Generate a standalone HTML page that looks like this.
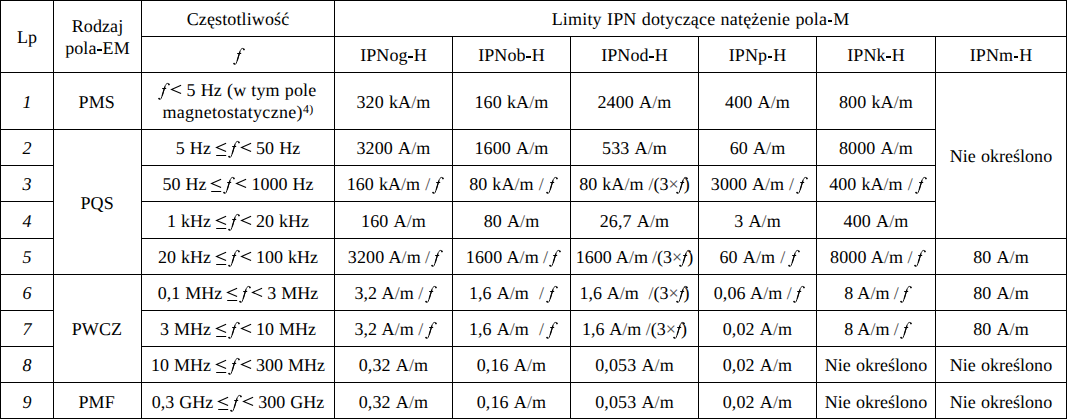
<!DOCTYPE html>
<html><head><meta charset="utf-8"><title>Tabela</title>
<style>
html,body{margin:0;padding:0;background:#fff;}
body{width:1067px;height:419px;position:relative;overflow:hidden;font-family:"Liberation Serif",serif;font-size:18px;color:#000;line-height:20px;text-rendering:geometricPrecision;font-kerning:none;word-spacing:0.5px;letter-spacing:0.12px;}
.t{position:absolute;height:20px;text-align:center;white-space:nowrap;}
.h,.v{position:absolute;background:#000;}
.h{height:1px;}.v{width:1px;}
sup{font-size:12px;line-height:0;vertical-align:5.5px;}
.hy{display:inline-block;width:6px;height:0;position:relative;}
.hy b{position:absolute;left:.7px;top:-5px;width:4.6px;height:2px;background:#000;}
u{text-decoration:none;color:#4a4a4a;}
.f,.lt,.le{display:inline-block;height:0;position:relative;}
.f{width:5px;}.lt{width:10.15px;}.le{width:9.88px;}
.f svg{position:absolute;left:-5px;top:-16px;overflow:visible;}
.lt svg,.le svg{position:absolute;left:-2px;top:-16px;overflow:visible;}
</style></head><body>

<div class="h" style="left:0px;top:0px;width:54px"></div>
<div class="h" style="left:53px;top:0px;width:89px"></div>
<div class="h" style="left:141px;top:0px;width:194px"></div>
<div class="h" style="left:334px;top:0px;width:733px"></div>
<div class="h" style="left:141px;top:36px;width:194px"></div>
<div class="h" style="left:334px;top:36px;width:119px"></div>
<div class="h" style="left:334px;top:36px;width:733px"></div>
<div class="h" style="left:452px;top:36px;width:119px"></div>
<div class="h" style="left:570px;top:36px;width:129px"></div>
<div class="h" style="left:698px;top:36px;width:119px"></div>
<div class="h" style="left:816px;top:36px;width:120px"></div>
<div class="h" style="left:935px;top:36px;width:132px"></div>
<div class="h" style="left:0px;top:72px;width:54px"></div>
<div class="h" style="left:53px;top:72px;width:89px"></div>
<div class="h" style="left:141px;top:72px;width:194px"></div>
<div class="h" style="left:334px;top:72px;width:119px"></div>
<div class="h" style="left:452px;top:72px;width:119px"></div>
<div class="h" style="left:570px;top:72px;width:129px"></div>
<div class="h" style="left:698px;top:72px;width:119px"></div>
<div class="h" style="left:816px;top:72px;width:120px"></div>
<div class="h" style="left:935px;top:72px;width:132px"></div>
<div class="h" style="left:0px;top:129px;width:54px"></div>
<div class="h" style="left:53px;top:129px;width:89px"></div>
<div class="h" style="left:141px;top:129px;width:194px"></div>
<div class="h" style="left:334px;top:129px;width:119px"></div>
<div class="h" style="left:452px;top:129px;width:119px"></div>
<div class="h" style="left:570px;top:129px;width:129px"></div>
<div class="h" style="left:698px;top:129px;width:119px"></div>
<div class="h" style="left:816px;top:129px;width:120px"></div>
<div class="h" style="left:0px;top:165px;width:54px"></div>
<div class="h" style="left:141px;top:165px;width:194px"></div>
<div class="h" style="left:334px;top:165px;width:119px"></div>
<div class="h" style="left:452px;top:165px;width:119px"></div>
<div class="h" style="left:570px;top:165px;width:129px"></div>
<div class="h" style="left:698px;top:165px;width:119px"></div>
<div class="h" style="left:816px;top:165px;width:120px"></div>
<div class="h" style="left:0px;top:201px;width:54px"></div>
<div class="h" style="left:141px;top:201px;width:194px"></div>
<div class="h" style="left:334px;top:201px;width:119px"></div>
<div class="h" style="left:452px;top:201px;width:119px"></div>
<div class="h" style="left:570px;top:201px;width:129px"></div>
<div class="h" style="left:698px;top:201px;width:119px"></div>
<div class="h" style="left:816px;top:201px;width:120px"></div>
<div class="h" style="left:0px;top:238px;width:54px"></div>
<div class="h" style="left:141px;top:238px;width:194px"></div>
<div class="h" style="left:334px;top:238px;width:119px"></div>
<div class="h" style="left:452px;top:238px;width:119px"></div>
<div class="h" style="left:570px;top:238px;width:129px"></div>
<div class="h" style="left:698px;top:238px;width:119px"></div>
<div class="h" style="left:816px;top:238px;width:120px"></div>
<div class="h" style="left:935px;top:238px;width:132px"></div>
<div class="h" style="left:0px;top:274px;width:54px"></div>
<div class="h" style="left:53px;top:274px;width:89px"></div>
<div class="h" style="left:141px;top:274px;width:194px"></div>
<div class="h" style="left:334px;top:274px;width:119px"></div>
<div class="h" style="left:452px;top:274px;width:119px"></div>
<div class="h" style="left:570px;top:274px;width:129px"></div>
<div class="h" style="left:698px;top:274px;width:119px"></div>
<div class="h" style="left:816px;top:274px;width:120px"></div>
<div class="h" style="left:935px;top:274px;width:132px"></div>
<div class="h" style="left:0px;top:310px;width:54px"></div>
<div class="h" style="left:141px;top:310px;width:194px"></div>
<div class="h" style="left:334px;top:310px;width:119px"></div>
<div class="h" style="left:452px;top:310px;width:119px"></div>
<div class="h" style="left:570px;top:310px;width:129px"></div>
<div class="h" style="left:698px;top:310px;width:119px"></div>
<div class="h" style="left:816px;top:310px;width:120px"></div>
<div class="h" style="left:935px;top:310px;width:132px"></div>
<div class="h" style="left:0px;top:346px;width:54px"></div>
<div class="h" style="left:141px;top:346px;width:194px"></div>
<div class="h" style="left:334px;top:346px;width:119px"></div>
<div class="h" style="left:452px;top:346px;width:119px"></div>
<div class="h" style="left:570px;top:346px;width:129px"></div>
<div class="h" style="left:698px;top:346px;width:119px"></div>
<div class="h" style="left:816px;top:346px;width:120px"></div>
<div class="h" style="left:935px;top:346px;width:132px"></div>
<div class="h" style="left:0px;top:382px;width:54px"></div>
<div class="h" style="left:53px;top:382px;width:89px"></div>
<div class="h" style="left:141px;top:382px;width:194px"></div>
<div class="h" style="left:334px;top:382px;width:119px"></div>
<div class="h" style="left:452px;top:382px;width:119px"></div>
<div class="h" style="left:570px;top:382px;width:129px"></div>
<div class="h" style="left:698px;top:382px;width:119px"></div>
<div class="h" style="left:816px;top:382px;width:120px"></div>
<div class="h" style="left:935px;top:382px;width:132px"></div>
<div class="h" style="left:0px;top:418px;width:54px"></div>
<div class="h" style="left:53px;top:418px;width:89px"></div>
<div class="h" style="left:141px;top:418px;width:194px"></div>
<div class="h" style="left:334px;top:418px;width:119px"></div>
<div class="h" style="left:452px;top:418px;width:119px"></div>
<div class="h" style="left:570px;top:418px;width:129px"></div>
<div class="h" style="left:698px;top:418px;width:119px"></div>
<div class="h" style="left:816px;top:418px;width:120px"></div>
<div class="h" style="left:935px;top:418px;width:132px"></div>
<div class="v" style="left:0px;top:0px;height:73px"></div>
<div class="v" style="left:0px;top:72px;height:58px"></div>
<div class="v" style="left:0px;top:129px;height:37px"></div>
<div class="v" style="left:0px;top:165px;height:37px"></div>
<div class="v" style="left:0px;top:201px;height:38px"></div>
<div class="v" style="left:0px;top:238px;height:37px"></div>
<div class="v" style="left:0px;top:274px;height:37px"></div>
<div class="v" style="left:0px;top:310px;height:37px"></div>
<div class="v" style="left:0px;top:346px;height:37px"></div>
<div class="v" style="left:0px;top:382px;height:37px"></div>
<div class="v" style="left:53px;top:0px;height:73px"></div>
<div class="v" style="left:53px;top:72px;height:58px"></div>
<div class="v" style="left:53px;top:129px;height:37px"></div>
<div class="v" style="left:53px;top:129px;height:146px"></div>
<div class="v" style="left:53px;top:165px;height:37px"></div>
<div class="v" style="left:53px;top:201px;height:38px"></div>
<div class="v" style="left:53px;top:238px;height:37px"></div>
<div class="v" style="left:53px;top:274px;height:37px"></div>
<div class="v" style="left:53px;top:274px;height:109px"></div>
<div class="v" style="left:53px;top:310px;height:37px"></div>
<div class="v" style="left:53px;top:346px;height:37px"></div>
<div class="v" style="left:53px;top:382px;height:37px"></div>
<div class="v" style="left:141px;top:0px;height:37px"></div>
<div class="v" style="left:141px;top:0px;height:73px"></div>
<div class="v" style="left:141px;top:36px;height:37px"></div>
<div class="v" style="left:141px;top:72px;height:58px"></div>
<div class="v" style="left:141px;top:129px;height:37px"></div>
<div class="v" style="left:141px;top:129px;height:146px"></div>
<div class="v" style="left:141px;top:165px;height:37px"></div>
<div class="v" style="left:141px;top:201px;height:38px"></div>
<div class="v" style="left:141px;top:238px;height:37px"></div>
<div class="v" style="left:141px;top:274px;height:37px"></div>
<div class="v" style="left:141px;top:274px;height:109px"></div>
<div class="v" style="left:141px;top:310px;height:37px"></div>
<div class="v" style="left:141px;top:346px;height:37px"></div>
<div class="v" style="left:141px;top:382px;height:37px"></div>
<div class="v" style="left:334px;top:0px;height:37px"></div>
<div class="v" style="left:334px;top:36px;height:37px"></div>
<div class="v" style="left:334px;top:72px;height:58px"></div>
<div class="v" style="left:334px;top:129px;height:37px"></div>
<div class="v" style="left:334px;top:165px;height:37px"></div>
<div class="v" style="left:334px;top:201px;height:38px"></div>
<div class="v" style="left:334px;top:238px;height:37px"></div>
<div class="v" style="left:334px;top:274px;height:37px"></div>
<div class="v" style="left:334px;top:310px;height:37px"></div>
<div class="v" style="left:334px;top:346px;height:37px"></div>
<div class="v" style="left:334px;top:382px;height:37px"></div>
<div class="v" style="left:452px;top:36px;height:37px"></div>
<div class="v" style="left:452px;top:72px;height:58px"></div>
<div class="v" style="left:452px;top:129px;height:37px"></div>
<div class="v" style="left:452px;top:165px;height:37px"></div>
<div class="v" style="left:452px;top:201px;height:38px"></div>
<div class="v" style="left:452px;top:238px;height:37px"></div>
<div class="v" style="left:452px;top:274px;height:37px"></div>
<div class="v" style="left:452px;top:310px;height:37px"></div>
<div class="v" style="left:452px;top:346px;height:37px"></div>
<div class="v" style="left:452px;top:382px;height:37px"></div>
<div class="v" style="left:570px;top:36px;height:37px"></div>
<div class="v" style="left:570px;top:72px;height:58px"></div>
<div class="v" style="left:570px;top:129px;height:37px"></div>
<div class="v" style="left:570px;top:165px;height:37px"></div>
<div class="v" style="left:570px;top:201px;height:38px"></div>
<div class="v" style="left:570px;top:238px;height:37px"></div>
<div class="v" style="left:570px;top:274px;height:37px"></div>
<div class="v" style="left:570px;top:310px;height:37px"></div>
<div class="v" style="left:570px;top:346px;height:37px"></div>
<div class="v" style="left:570px;top:382px;height:37px"></div>
<div class="v" style="left:698px;top:36px;height:37px"></div>
<div class="v" style="left:698px;top:72px;height:58px"></div>
<div class="v" style="left:698px;top:129px;height:37px"></div>
<div class="v" style="left:698px;top:165px;height:37px"></div>
<div class="v" style="left:698px;top:201px;height:38px"></div>
<div class="v" style="left:698px;top:238px;height:37px"></div>
<div class="v" style="left:698px;top:274px;height:37px"></div>
<div class="v" style="left:698px;top:310px;height:37px"></div>
<div class="v" style="left:698px;top:346px;height:37px"></div>
<div class="v" style="left:698px;top:382px;height:37px"></div>
<div class="v" style="left:816px;top:36px;height:37px"></div>
<div class="v" style="left:816px;top:72px;height:58px"></div>
<div class="v" style="left:816px;top:129px;height:37px"></div>
<div class="v" style="left:816px;top:165px;height:37px"></div>
<div class="v" style="left:816px;top:201px;height:38px"></div>
<div class="v" style="left:816px;top:238px;height:37px"></div>
<div class="v" style="left:816px;top:274px;height:37px"></div>
<div class="v" style="left:816px;top:310px;height:37px"></div>
<div class="v" style="left:816px;top:346px;height:37px"></div>
<div class="v" style="left:816px;top:382px;height:37px"></div>
<div class="v" style="left:935px;top:36px;height:37px"></div>
<div class="v" style="left:935px;top:72px;height:58px"></div>
<div class="v" style="left:935px;top:72px;height:167px"></div>
<div class="v" style="left:935px;top:129px;height:37px"></div>
<div class="v" style="left:935px;top:165px;height:37px"></div>
<div class="v" style="left:935px;top:201px;height:38px"></div>
<div class="v" style="left:935px;top:238px;height:37px"></div>
<div class="v" style="left:935px;top:274px;height:37px"></div>
<div class="v" style="left:935px;top:310px;height:37px"></div>
<div class="v" style="left:935px;top:346px;height:37px"></div>
<div class="v" style="left:935px;top:382px;height:37px"></div>
<div class="v" style="left:1066px;top:0px;height:37px"></div>
<div class="v" style="left:1066px;top:36px;height:37px"></div>
<div class="v" style="left:1066px;top:72px;height:167px"></div>
<div class="v" style="left:1066px;top:238px;height:37px"></div>
<div class="v" style="left:1066px;top:274px;height:37px"></div>
<div class="v" style="left:1066px;top:310px;height:37px"></div>
<div class="v" style="left:1066px;top:346px;height:37px"></div>
<div class="v" style="left:1066px;top:382px;height:37px"></div>
<div class="t" id="t0" style="left:1px;top:27px;width:52px"><span>Lp</span></div>
<div class="t" id="t1" style="left:54px;top:16px;width:87px"><span>Rodzaj</span></div>
<div class="t" id="t2" style="left:54px;top:38px;width:87px"><span>pola<span class="hy"><b></b></span>EM</span></div>
<div class="t" id="t3" style="left:142px;top:9px;width:192px"><span>Częstotliwość</span></div>
<div class="t" id="t4" style="left:142px;top:45px;width:192px"><span><span class="f"><svg width="16" height="22" viewBox="-5 -16 16 22"><path d="M-2 2.7C-1.8 3.7-.7 3.8-.1 2.8C.5 1.8 1 .4 1.5-1.3L3.8-9C4.4-11 5.3-12.6 6.7-12.6C7.4-12.6 7.9-12.3 8-11.7" fill="none" stroke="#000" stroke-width=".9" stroke-linecap="round"/><path d="M1.2-.3L3.9-9.3" fill="none" stroke="#000" stroke-width="1.2"/><circle cx="-1.9" cy="2.6" r=".85"/><circle cx="7.9" cy="-11.6" r=".85"/><path d="M1.2-7.5H5.2" stroke="#000" stroke-width="1"/></svg></span></span></div>
<div class="t" id="t5" style="left:335px;top:9px;width:731px;letter-spacing:0.19px"><span>Limity IPN dotyczące natężenie pola<span class="hy"><b></b></span>M</span></div>
<div class="t" id="t6" style="left:335px;top:45px;width:117px"><span>IPNog<span class="hy"><b></b></span>H</span></div>
<div class="t" id="t7" style="left:453px;top:45px;width:117px"><span>IPNob<span class="hy"><b></b></span>H</span></div>
<div class="t" id="t8" style="left:571px;top:45px;width:127px"><span>IPNod<span class="hy"><b></b></span>H</span></div>
<div class="t" id="t9" style="left:699px;top:45px;width:117px"><span>IPNp<span class="hy"><b></b></span>H</span></div>
<div class="t" id="t10" style="left:817px;top:45px;width:118px"><span>IPNk<span class="hy"><b></b></span>H</span></div>
<div class="t" id="t11" style="left:936px;top:45px;width:130px"><span>IPNm<span class="hy"><b></b></span>H</span></div>
<div class="t" id="t12" style="left:1px;top:92px;width:52px"><span><i>1</i></span></div>
<div class="t" id="t13" style="left:1px;top:138px;width:52px"><span><i>2</i></span></div>
<div class="t" id="t14" style="left:1px;top:174px;width:52px"><span><i>3</i></span></div>
<div class="t" id="t15" style="left:1px;top:211px;width:52px"><span><i>4</i></span></div>
<div class="t" id="t16" style="left:1px;top:247px;width:52px"><span><i>5</i></span></div>
<div class="t" id="t17" style="left:1px;top:283px;width:52px"><span><i>6</i></span></div>
<div class="t" id="t18" style="left:1px;top:319px;width:52px"><span><i>7</i></span></div>
<div class="t" id="t19" style="left:1px;top:355px;width:52px"><span><i>8</i></span></div>
<div class="t" id="t20" style="left:1px;top:392px;width:52px"><span><i>9</i></span></div>
<div class="t" id="t21" style="left:53.3px;top:92px;width:87px"><span>PMS</span></div>
<div class="t" id="t22" style="left:53.6px;top:193px;width:87px"><span>PQS</span></div>
<div class="t" id="t23" style="left:53.4px;top:319px;width:87px"><span>PWCZ</span></div>
<div class="t" id="t24" style="left:53.2px;top:392px;width:87px"><span>PMF</span></div>
<div class="t" id="t25" style="left:142.7px;top:80px;width:192px"><span><span class="f"><svg width="16" height="22" viewBox="-5 -16 16 22"><path d="M-2 2.7C-1.8 3.7-.7 3.8-.1 2.8C.5 1.8 1 .4 1.5-1.3L3.8-9C4.4-11 5.3-12.6 6.7-12.6C7.4-12.6 7.9-12.3 8-11.7" fill="none" stroke="#000" stroke-width=".9" stroke-linecap="round"/><path d="M1.2-.3L3.9-9.3" fill="none" stroke="#000" stroke-width="1.2"/><circle cx="-1.9" cy="2.6" r=".85"/><circle cx="7.9" cy="-11.6" r=".85"/><path d="M1.2-7.5H5.2" stroke="#000" stroke-width="1"/></svg></span> <span class="lt"><svg width="14" height="22" viewBox="-2 -16 14 22"><path d="M10.1-10.7L.5-6.6L10.1-2.5" fill="none" stroke="#000" stroke-width="1.05"/></svg></span> 5 Hz (w tym pole</span></div>
<div class="t" id="t26" style="left:142px;top:102px;width:192px;letter-spacing:0.33px"><span>magnetostatyczne)<sup>4)</sup></span></div>
<div class="t" id="t27" style="left:142px;top:138px;width:192px;letter-spacing:0.03px"><span>5 Hz <span class="le"><svg width="14" height="22" viewBox="-2 -16 14 22"><path d="M10.1-10.7L.5-6.6L10.1-2.5" fill="none" stroke="#000" stroke-width="1.05"/><path d="M.2 1.5H10.2" stroke="#000" stroke-width="1"/></svg></span> <span class="f"><svg width="16" height="22" viewBox="-5 -16 16 22"><path d="M-2 2.7C-1.8 3.7-.7 3.8-.1 2.8C.5 1.8 1 .4 1.5-1.3L3.8-9C4.4-11 5.3-12.6 6.7-12.6C7.4-12.6 7.9-12.3 8-11.7" fill="none" stroke="#000" stroke-width=".9" stroke-linecap="round"/><path d="M1.2-.3L3.9-9.3" fill="none" stroke="#000" stroke-width="1.2"/><circle cx="-1.9" cy="2.6" r=".85"/><circle cx="7.9" cy="-11.6" r=".85"/><path d="M1.2-7.5H5.2" stroke="#000" stroke-width="1"/></svg></span> <span class="lt"><svg width="14" height="22" viewBox="-2 -16 14 22"><path d="M10.1-10.7L.5-6.6L10.1-2.5" fill="none" stroke="#000" stroke-width="1.05"/></svg></span> 50 Hz</span></div>
<div class="t" id="t28" style="left:142px;top:174px;width:192px;letter-spacing:0px"><span>50 Hz <span class="le"><svg width="14" height="22" viewBox="-2 -16 14 22"><path d="M10.1-10.7L.5-6.6L10.1-2.5" fill="none" stroke="#000" stroke-width="1.05"/><path d="M.2 1.5H10.2" stroke="#000" stroke-width="1"/></svg></span> <span class="f"><svg width="16" height="22" viewBox="-5 -16 16 22"><path d="M-2 2.7C-1.8 3.7-.7 3.8-.1 2.8C.5 1.8 1 .4 1.5-1.3L3.8-9C4.4-11 5.3-12.6 6.7-12.6C7.4-12.6 7.9-12.3 8-11.7" fill="none" stroke="#000" stroke-width=".9" stroke-linecap="round"/><path d="M1.2-.3L3.9-9.3" fill="none" stroke="#000" stroke-width="1.2"/><circle cx="-1.9" cy="2.6" r=".85"/><circle cx="7.9" cy="-11.6" r=".85"/><path d="M1.2-7.5H5.2" stroke="#000" stroke-width="1"/></svg></span> <span class="lt"><svg width="14" height="22" viewBox="-2 -16 14 22"><path d="M10.1-10.7L.5-6.6L10.1-2.5" fill="none" stroke="#000" stroke-width="1.05"/></svg></span> 1000 Hz</span></div>
<div class="t" id="t29" style="left:142px;top:211px;width:192px;letter-spacing:0px"><span>1 kHz <span class="le"><svg width="14" height="22" viewBox="-2 -16 14 22"><path d="M10.1-10.7L.5-6.6L10.1-2.5" fill="none" stroke="#000" stroke-width="1.05"/><path d="M.2 1.5H10.2" stroke="#000" stroke-width="1"/></svg></span> <span class="f"><svg width="16" height="22" viewBox="-5 -16 16 22"><path d="M-2 2.7C-1.8 3.7-.7 3.8-.1 2.8C.5 1.8 1 .4 1.5-1.3L3.8-9C4.4-11 5.3-12.6 6.7-12.6C7.4-12.6 7.9-12.3 8-11.7" fill="none" stroke="#000" stroke-width=".9" stroke-linecap="round"/><path d="M1.2-.3L3.9-9.3" fill="none" stroke="#000" stroke-width="1.2"/><circle cx="-1.9" cy="2.6" r=".85"/><circle cx="7.9" cy="-11.6" r=".85"/><path d="M1.2-7.5H5.2" stroke="#000" stroke-width="1"/></svg></span> <span class="lt"><svg width="14" height="22" viewBox="-2 -16 14 22"><path d="M10.1-10.7L.5-6.6L10.1-2.5" fill="none" stroke="#000" stroke-width="1.05"/></svg></span> 20 kHz</span></div>
<div class="t" id="t30" style="left:142px;top:247px;width:192px;letter-spacing:0px"><span>20 kHz <span class="le"><svg width="14" height="22" viewBox="-2 -16 14 22"><path d="M10.1-10.7L.5-6.6L10.1-2.5" fill="none" stroke="#000" stroke-width="1.05"/><path d="M.2 1.5H10.2" stroke="#000" stroke-width="1"/></svg></span> <span class="f"><svg width="16" height="22" viewBox="-5 -16 16 22"><path d="M-2 2.7C-1.8 3.7-.7 3.8-.1 2.8C.5 1.8 1 .4 1.5-1.3L3.8-9C4.4-11 5.3-12.6 6.7-12.6C7.4-12.6 7.9-12.3 8-11.7" fill="none" stroke="#000" stroke-width=".9" stroke-linecap="round"/><path d="M1.2-.3L3.9-9.3" fill="none" stroke="#000" stroke-width="1.2"/><circle cx="-1.9" cy="2.6" r=".85"/><circle cx="7.9" cy="-11.6" r=".85"/><path d="M1.2-7.5H5.2" stroke="#000" stroke-width="1"/></svg></span> <span class="lt"><svg width="14" height="22" viewBox="-2 -16 14 22"><path d="M10.1-10.7L.5-6.6L10.1-2.5" fill="none" stroke="#000" stroke-width="1.05"/></svg></span> 100 kHz</span></div>
<div class="t" id="t31" style="left:142px;top:283px;width:192px;letter-spacing:0px"><span>0,1 MHz <span class="le"><svg width="14" height="22" viewBox="-2 -16 14 22"><path d="M10.1-10.7L.5-6.6L10.1-2.5" fill="none" stroke="#000" stroke-width="1.05"/><path d="M.2 1.5H10.2" stroke="#000" stroke-width="1"/></svg></span> <span class="f"><svg width="16" height="22" viewBox="-5 -16 16 22"><path d="M-2 2.7C-1.8 3.7-.7 3.8-.1 2.8C.5 1.8 1 .4 1.5-1.3L3.8-9C4.4-11 5.3-12.6 6.7-12.6C7.4-12.6 7.9-12.3 8-11.7" fill="none" stroke="#000" stroke-width=".9" stroke-linecap="round"/><path d="M1.2-.3L3.9-9.3" fill="none" stroke="#000" stroke-width="1.2"/><circle cx="-1.9" cy="2.6" r=".85"/><circle cx="7.9" cy="-11.6" r=".85"/><path d="M1.2-7.5H5.2" stroke="#000" stroke-width="1"/></svg></span> <span class="lt"><svg width="14" height="22" viewBox="-2 -16 14 22"><path d="M10.1-10.7L.5-6.6L10.1-2.5" fill="none" stroke="#000" stroke-width="1.05"/></svg></span> 3 MHz</span></div>
<div class="t" id="t32" style="left:142px;top:319px;width:192px;letter-spacing:0px"><span>3 MHz <span class="le"><svg width="14" height="22" viewBox="-2 -16 14 22"><path d="M10.1-10.7L.5-6.6L10.1-2.5" fill="none" stroke="#000" stroke-width="1.05"/><path d="M.2 1.5H10.2" stroke="#000" stroke-width="1"/></svg></span> <span class="f"><svg width="16" height="22" viewBox="-5 -16 16 22"><path d="M-2 2.7C-1.8 3.7-.7 3.8-.1 2.8C.5 1.8 1 .4 1.5-1.3L3.8-9C4.4-11 5.3-12.6 6.7-12.6C7.4-12.6 7.9-12.3 8-11.7" fill="none" stroke="#000" stroke-width=".9" stroke-linecap="round"/><path d="M1.2-.3L3.9-9.3" fill="none" stroke="#000" stroke-width="1.2"/><circle cx="-1.9" cy="2.6" r=".85"/><circle cx="7.9" cy="-11.6" r=".85"/><path d="M1.2-7.5H5.2" stroke="#000" stroke-width="1"/></svg></span> <span class="lt"><svg width="14" height="22" viewBox="-2 -16 14 22"><path d="M10.1-10.7L.5-6.6L10.1-2.5" fill="none" stroke="#000" stroke-width="1.05"/></svg></span> 10 MHz</span></div>
<div class="t" id="t33" style="left:142px;top:355px;width:192px;letter-spacing:0px"><span>10 MHz <span class="le"><svg width="14" height="22" viewBox="-2 -16 14 22"><path d="M10.1-10.7L.5-6.6L10.1-2.5" fill="none" stroke="#000" stroke-width="1.05"/><path d="M.2 1.5H10.2" stroke="#000" stroke-width="1"/></svg></span> <span class="f"><svg width="16" height="22" viewBox="-5 -16 16 22"><path d="M-2 2.7C-1.8 3.7-.7 3.8-.1 2.8C.5 1.8 1 .4 1.5-1.3L3.8-9C4.4-11 5.3-12.6 6.7-12.6C7.4-12.6 7.9-12.3 8-11.7" fill="none" stroke="#000" stroke-width=".9" stroke-linecap="round"/><path d="M1.2-.3L3.9-9.3" fill="none" stroke="#000" stroke-width="1.2"/><circle cx="-1.9" cy="2.6" r=".85"/><circle cx="7.9" cy="-11.6" r=".85"/><path d="M1.2-7.5H5.2" stroke="#000" stroke-width="1"/></svg></span> <span class="lt"><svg width="14" height="22" viewBox="-2 -16 14 22"><path d="M10.1-10.7L.5-6.6L10.1-2.5" fill="none" stroke="#000" stroke-width="1.05"/></svg></span> 300 MHz</span></div>
<div class="t" id="t34" style="left:142px;top:392px;width:192px;letter-spacing:0px"><span>0,3 GHz <span class="le"><svg width="14" height="22" viewBox="-2 -16 14 22"><path d="M10.1-10.7L.5-6.6L10.1-2.5" fill="none" stroke="#000" stroke-width="1.05"/><path d="M.2 1.5H10.2" stroke="#000" stroke-width="1"/></svg></span> <span class="f"><svg width="16" height="22" viewBox="-5 -16 16 22"><path d="M-2 2.7C-1.8 3.7-.7 3.8-.1 2.8C.5 1.8 1 .4 1.5-1.3L3.8-9C4.4-11 5.3-12.6 6.7-12.6C7.4-12.6 7.9-12.3 8-11.7" fill="none" stroke="#000" stroke-width=".9" stroke-linecap="round"/><path d="M1.2-.3L3.9-9.3" fill="none" stroke="#000" stroke-width="1.2"/><circle cx="-1.9" cy="2.6" r=".85"/><circle cx="7.9" cy="-11.6" r=".85"/><path d="M1.2-7.5H5.2" stroke="#000" stroke-width="1"/></svg></span> <span class="lt"><svg width="14" height="22" viewBox="-2 -16 14 22"><path d="M10.1-10.7L.5-6.6L10.1-2.5" fill="none" stroke="#000" stroke-width="1.05"/></svg></span> 300 GHz</span></div>
<div class="t" id="t35" style="left:335px;top:92px;width:117px"><span>320 kA<u>/</u>m</span></div>
<div class="t" id="t36" style="left:453px;top:92px;width:117px"><span>160 kA<u>/</u>m</span></div>
<div class="t" id="t37" style="left:571px;top:92px;width:127px"><span>2400 A<u>/</u>m</span></div>
<div class="t" id="t38" style="left:699px;top:92px;width:117px"><span>400 A<u>/</u>m</span></div>
<div class="t" id="t39" style="left:817px;top:92px;width:118px"><span>800 kA<u>/</u>m</span></div>
<div class="t" id="t40" style="left:335px;top:138px;width:117px"><span>3200 A<u>/</u>m</span></div>
<div class="t" id="t41" style="left:453px;top:138px;width:117px"><span>1600 A<u>/</u>m</span></div>
<div class="t" id="t42" style="left:571px;top:138px;width:127px"><span>533 A<u>/</u>m</span></div>
<div class="t" id="t43" style="left:699px;top:138px;width:117px"><span>60 A<u>/</u>m</span></div>
<div class="t" id="t44" style="left:817px;top:138px;width:118px"><span>8000 A<u>/</u>m</span></div>
<div class="t" id="t45" style="left:335px;top:174px;width:117px;letter-spacing:0.06px"><span>160 kA<u>/</u>m <u>/</u> <span class="f"><svg width="16" height="22" viewBox="-5 -16 16 22"><path d="M-2 2.7C-1.8 3.7-.7 3.8-.1 2.8C.5 1.8 1 .4 1.5-1.3L3.8-9C4.4-11 5.3-12.6 6.7-12.6C7.4-12.6 7.9-12.3 8-11.7" fill="none" stroke="#000" stroke-width=".9" stroke-linecap="round"/><path d="M1.2-.3L3.9-9.3" fill="none" stroke="#000" stroke-width="1.2"/><circle cx="-1.9" cy="2.6" r=".85"/><circle cx="7.9" cy="-11.6" r=".85"/><path d="M1.2-7.5H5.2" stroke="#000" stroke-width="1"/></svg></span></span></div>
<div class="t" id="t46" style="left:453px;top:174px;width:117px;letter-spacing:0.06px"><span>80 kA<u>/</u>m <u>/</u> <span class="f"><svg width="16" height="22" viewBox="-5 -16 16 22"><path d="M-2 2.7C-1.8 3.7-.7 3.8-.1 2.8C.5 1.8 1 .4 1.5-1.3L3.8-9C4.4-11 5.3-12.6 6.7-12.6C7.4-12.6 7.9-12.3 8-11.7" fill="none" stroke="#000" stroke-width=".9" stroke-linecap="round"/><path d="M1.2-.3L3.9-9.3" fill="none" stroke="#000" stroke-width="1.2"/><circle cx="-1.9" cy="2.6" r=".85"/><circle cx="7.9" cy="-11.6" r=".85"/><path d="M1.2-7.5H5.2" stroke="#000" stroke-width="1"/></svg></span></span></div>
<div class="t" id="t47" style="left:571px;top:174px;width:127px;letter-spacing:0.03px"><span>80 kA<u>/</u>m <u>/</u>(3<u>×</u><span class="f"><svg width="16" height="22" viewBox="-5 -16 16 22"><path d="M-2 2.7C-1.8 3.7-.7 3.8-.1 2.8C.5 1.8 1 .4 1.5-1.3L3.8-9C4.4-11 5.3-12.6 6.7-12.6C7.4-12.6 7.9-12.3 8-11.7" fill="none" stroke="#000" stroke-width=".9" stroke-linecap="round"/><path d="M1.2-.3L3.9-9.3" fill="none" stroke="#000" stroke-width="1.2"/><circle cx="-1.9" cy="2.6" r=".85"/><circle cx="7.9" cy="-11.6" r=".85"/><path d="M1.2-7.5H5.2" stroke="#000" stroke-width="1"/></svg></span>)</span></div>
<div class="t" id="t48" style="left:699px;top:174px;width:117px;letter-spacing:0.02px"><span>3000 A<u>/</u>m <u>/</u> <span class="f"><svg width="16" height="22" viewBox="-5 -16 16 22"><path d="M-2 2.7C-1.8 3.7-.7 3.8-.1 2.8C.5 1.8 1 .4 1.5-1.3L3.8-9C4.4-11 5.3-12.6 6.7-12.6C7.4-12.6 7.9-12.3 8-11.7" fill="none" stroke="#000" stroke-width=".9" stroke-linecap="round"/><path d="M1.2-.3L3.9-9.3" fill="none" stroke="#000" stroke-width="1.2"/><circle cx="-1.9" cy="2.6" r=".85"/><circle cx="7.9" cy="-11.6" r=".85"/><path d="M1.2-7.5H5.2" stroke="#000" stroke-width="1"/></svg></span></span></div>
<div class="t" id="t49" style="left:817px;top:174px;width:118px;letter-spacing:0.06px"><span>400 kA<u>/</u>m <u>/</u> <span class="f"><svg width="16" height="22" viewBox="-5 -16 16 22"><path d="M-2 2.7C-1.8 3.7-.7 3.8-.1 2.8C.5 1.8 1 .4 1.5-1.3L3.8-9C4.4-11 5.3-12.6 6.7-12.6C7.4-12.6 7.9-12.3 8-11.7" fill="none" stroke="#000" stroke-width=".9" stroke-linecap="round"/><path d="M1.2-.3L3.9-9.3" fill="none" stroke="#000" stroke-width="1.2"/><circle cx="-1.9" cy="2.6" r=".85"/><circle cx="7.9" cy="-11.6" r=".85"/><path d="M1.2-7.5H5.2" stroke="#000" stroke-width="1"/></svg></span></span></div>
<div class="t" id="t50" style="left:335px;top:211px;width:117px"><span>160 A<u>/</u>m</span></div>
<div class="t" id="t51" style="left:453px;top:211px;width:117px"><span>80 A<u>/</u>m</span></div>
<div class="t" id="t52" style="left:571px;top:211px;width:127px"><span>26,7 A<u>/</u>m</span></div>
<div class="t" id="t53" style="left:699px;top:211px;width:117px"><span>3 A<u>/</u>m</span></div>
<div class="t" id="t54" style="left:817px;top:211px;width:118px"><span>400 A<u>/</u>m</span></div>
<div class="t" id="t55" style="left:335px;top:247px;width:117px;word-spacing:-0.5px"><span>3200 A<u>/</u>m <u>/</u> <span class="f"><svg width="16" height="22" viewBox="-5 -16 16 22"><path d="M-2 2.7C-1.8 3.7-.7 3.8-.1 2.8C.5 1.8 1 .4 1.5-1.3L3.8-9C4.4-11 5.3-12.6 6.7-12.6C7.4-12.6 7.9-12.3 8-11.7" fill="none" stroke="#000" stroke-width=".9" stroke-linecap="round"/><path d="M1.2-.3L3.9-9.3" fill="none" stroke="#000" stroke-width="1.2"/><circle cx="-1.9" cy="2.6" r=".85"/><circle cx="7.9" cy="-11.6" r=".85"/><path d="M1.2-7.5H5.2" stroke="#000" stroke-width="1"/></svg></span></span></div>
<div class="t" id="t56" style="left:453px;top:247px;width:117px;word-spacing:-0.5px"><span>1600 A<u>/</u>m <u>/</u> <span class="f"><svg width="16" height="22" viewBox="-5 -16 16 22"><path d="M-2 2.7C-1.8 3.7-.7 3.8-.1 2.8C.5 1.8 1 .4 1.5-1.3L3.8-9C4.4-11 5.3-12.6 6.7-12.6C7.4-12.6 7.9-12.3 8-11.7" fill="none" stroke="#000" stroke-width=".9" stroke-linecap="round"/><path d="M1.2-.3L3.9-9.3" fill="none" stroke="#000" stroke-width="1.2"/><circle cx="-1.9" cy="2.6" r=".85"/><circle cx="7.9" cy="-11.6" r=".85"/><path d="M1.2-7.5H5.2" stroke="#000" stroke-width="1"/></svg></span></span></div>
<div class="t" id="t57" style="left:571px;top:247px;width:127px;letter-spacing:0.03px;word-spacing:-0.5px"><span>1600 A<u>/</u>m <u>/</u>(3<u>×</u><span class="f"><svg width="16" height="22" viewBox="-5 -16 16 22"><path d="M-2 2.7C-1.8 3.7-.7 3.8-.1 2.8C.5 1.8 1 .4 1.5-1.3L3.8-9C4.4-11 5.3-12.6 6.7-12.6C7.4-12.6 7.9-12.3 8-11.7" fill="none" stroke="#000" stroke-width=".9" stroke-linecap="round"/><path d="M1.2-.3L3.9-9.3" fill="none" stroke="#000" stroke-width="1.2"/><circle cx="-1.9" cy="2.6" r=".85"/><circle cx="7.9" cy="-11.6" r=".85"/><path d="M1.2-7.5H5.2" stroke="#000" stroke-width="1"/></svg></span>)</span></div>
<div class="t" id="t58" style="left:699px;top:247px;width:117px"><span>60 A<u>/</u>m <u>/</u> <span class="f"><svg width="16" height="22" viewBox="-5 -16 16 22"><path d="M-2 2.7C-1.8 3.7-.7 3.8-.1 2.8C.5 1.8 1 .4 1.5-1.3L3.8-9C4.4-11 5.3-12.6 6.7-12.6C7.4-12.6 7.9-12.3 8-11.7" fill="none" stroke="#000" stroke-width=".9" stroke-linecap="round"/><path d="M1.2-.3L3.9-9.3" fill="none" stroke="#000" stroke-width="1.2"/><circle cx="-1.9" cy="2.6" r=".85"/><circle cx="7.9" cy="-11.6" r=".85"/><path d="M1.2-7.5H5.2" stroke="#000" stroke-width="1"/></svg></span></span></div>
<div class="t" id="t59" style="left:817px;top:247px;width:118px;word-spacing:-0.33px"><span>8000 A<u>/</u>m <u>/</u> <span class="f"><svg width="16" height="22" viewBox="-5 -16 16 22"><path d="M-2 2.7C-1.8 3.7-.7 3.8-.1 2.8C.5 1.8 1 .4 1.5-1.3L3.8-9C4.4-11 5.3-12.6 6.7-12.6C7.4-12.6 7.9-12.3 8-11.7" fill="none" stroke="#000" stroke-width=".9" stroke-linecap="round"/><path d="M1.2-.3L3.9-9.3" fill="none" stroke="#000" stroke-width="1.2"/><circle cx="-1.9" cy="2.6" r=".85"/><circle cx="7.9" cy="-11.6" r=".85"/><path d="M1.2-7.5H5.2" stroke="#000" stroke-width="1"/></svg></span></span></div>
<div class="t" id="t60" style="left:936px;top:247px;width:130px"><span>80 A<u>/</u>m</span></div>
<div class="t" id="t61" style="left:335px;top:283px;width:117px;word-spacing:-0.33px"><span>3,2 A<u>/</u>m <u>/</u> <span class="f"><svg width="16" height="22" viewBox="-5 -16 16 22"><path d="M-2 2.7C-1.8 3.7-.7 3.8-.1 2.8C.5 1.8 1 .4 1.5-1.3L3.8-9C4.4-11 5.3-12.6 6.7-12.6C7.4-12.6 7.9-12.3 8-11.7" fill="none" stroke="#000" stroke-width=".9" stroke-linecap="round"/><path d="M1.2-.3L3.9-9.3" fill="none" stroke="#000" stroke-width="1.2"/><circle cx="-1.9" cy="2.6" r=".85"/><circle cx="7.9" cy="-11.6" r=".85"/><path d="M1.2-7.5H5.2" stroke="#000" stroke-width="1"/></svg></span></span></div>
<div class="t" id="t62" style="left:453px;top:283px;width:117px;letter-spacing:0.04px"><span>1,6 A<u>/</u>m&nbsp; <u>/</u> <span class="f"><svg width="16" height="22" viewBox="-5 -16 16 22"><path d="M-2 2.7C-1.8 3.7-.7 3.8-.1 2.8C.5 1.8 1 .4 1.5-1.3L3.8-9C4.4-11 5.3-12.6 6.7-12.6C7.4-12.6 7.9-12.3 8-11.7" fill="none" stroke="#000" stroke-width=".9" stroke-linecap="round"/><path d="M1.2-.3L3.9-9.3" fill="none" stroke="#000" stroke-width="1.2"/><circle cx="-1.9" cy="2.6" r=".85"/><circle cx="7.9" cy="-11.6" r=".85"/><path d="M1.2-7.5H5.2" stroke="#000" stroke-width="1"/></svg></span></span></div>
<div class="t" id="t63" style="left:571px;top:283px;width:127px;letter-spacing:0px;word-spacing:0.3px"><span>1,6 A<u>/</u>m&nbsp; <u>/</u>(3<u>×</u><span class="f"><svg width="16" height="22" viewBox="-5 -16 16 22"><path d="M-2 2.7C-1.8 3.7-.7 3.8-.1 2.8C.5 1.8 1 .4 1.5-1.3L3.8-9C4.4-11 5.3-12.6 6.7-12.6C7.4-12.6 7.9-12.3 8-11.7" fill="none" stroke="#000" stroke-width=".9" stroke-linecap="round"/><path d="M1.2-.3L3.9-9.3" fill="none" stroke="#000" stroke-width="1.2"/><circle cx="-1.9" cy="2.6" r=".85"/><circle cx="7.9" cy="-11.6" r=".85"/><path d="M1.2-7.5H5.2" stroke="#000" stroke-width="1"/></svg></span>)</span></div>
<div class="t" id="t64" style="left:699px;top:283px;width:117px;word-spacing:-0.25px"><span>0,06 A<u>/</u>m <u>/</u> <span class="f"><svg width="16" height="22" viewBox="-5 -16 16 22"><path d="M-2 2.7C-1.8 3.7-.7 3.8-.1 2.8C.5 1.8 1 .4 1.5-1.3L3.8-9C4.4-11 5.3-12.6 6.7-12.6C7.4-12.6 7.9-12.3 8-11.7" fill="none" stroke="#000" stroke-width=".9" stroke-linecap="round"/><path d="M1.2-.3L3.9-9.3" fill="none" stroke="#000" stroke-width="1.2"/><circle cx="-1.9" cy="2.6" r=".85"/><circle cx="7.9" cy="-11.6" r=".85"/><path d="M1.2-7.5H5.2" stroke="#000" stroke-width="1"/></svg></span></span></div>
<div class="t" id="t65" style="left:817px;top:283px;width:118px;word-spacing:-0.7px"><span>8 A<u>/</u>m <u>/</u> <span class="f"><svg width="16" height="22" viewBox="-5 -16 16 22"><path d="M-2 2.7C-1.8 3.7-.7 3.8-.1 2.8C.5 1.8 1 .4 1.5-1.3L3.8-9C4.4-11 5.3-12.6 6.7-12.6C7.4-12.6 7.9-12.3 8-11.7" fill="none" stroke="#000" stroke-width=".9" stroke-linecap="round"/><path d="M1.2-.3L3.9-9.3" fill="none" stroke="#000" stroke-width="1.2"/><circle cx="-1.9" cy="2.6" r=".85"/><circle cx="7.9" cy="-11.6" r=".85"/><path d="M1.2-7.5H5.2" stroke="#000" stroke-width="1"/></svg></span></span></div>
<div class="t" id="t66" style="left:936px;top:283px;width:130px"><span>80 A<u>/</u>m</span></div>
<div class="t" id="t67" style="left:335px;top:319px;width:117px;word-spacing:-0.33px"><span>3,2 A<u>/</u>m <u>/</u> <span class="f"><svg width="16" height="22" viewBox="-5 -16 16 22"><path d="M-2 2.7C-1.8 3.7-.7 3.8-.1 2.8C.5 1.8 1 .4 1.5-1.3L3.8-9C4.4-11 5.3-12.6 6.7-12.6C7.4-12.6 7.9-12.3 8-11.7" fill="none" stroke="#000" stroke-width=".9" stroke-linecap="round"/><path d="M1.2-.3L3.9-9.3" fill="none" stroke="#000" stroke-width="1.2"/><circle cx="-1.9" cy="2.6" r=".85"/><circle cx="7.9" cy="-11.6" r=".85"/><path d="M1.2-7.5H5.2" stroke="#000" stroke-width="1"/></svg></span></span></div>
<div class="t" id="t68" style="left:453px;top:319px;width:117px;letter-spacing:0.04px"><span>1,6 A<u>/</u>m&nbsp; <u>/</u> <span class="f"><svg width="16" height="22" viewBox="-5 -16 16 22"><path d="M-2 2.7C-1.8 3.7-.7 3.8-.1 2.8C.5 1.8 1 .4 1.5-1.3L3.8-9C4.4-11 5.3-12.6 6.7-12.6C7.4-12.6 7.9-12.3 8-11.7" fill="none" stroke="#000" stroke-width=".9" stroke-linecap="round"/><path d="M1.2-.3L3.9-9.3" fill="none" stroke="#000" stroke-width="1.2"/><circle cx="-1.9" cy="2.6" r=".85"/><circle cx="7.9" cy="-11.6" r=".85"/><path d="M1.2-7.5H5.2" stroke="#000" stroke-width="1"/></svg></span></span></div>
<div class="t" id="t69" style="left:571px;top:319px;width:127px;letter-spacing:0px;word-spacing:0.1px"><span>1,6 A<u>/</u>m <u>/</u>(3<u>×</u><span class="f"><svg width="16" height="22" viewBox="-5 -16 16 22"><path d="M-2 2.7C-1.8 3.7-.7 3.8-.1 2.8C.5 1.8 1 .4 1.5-1.3L3.8-9C4.4-11 5.3-12.6 6.7-12.6C7.4-12.6 7.9-12.3 8-11.7" fill="none" stroke="#000" stroke-width=".9" stroke-linecap="round"/><path d="M1.2-.3L3.9-9.3" fill="none" stroke="#000" stroke-width="1.2"/><circle cx="-1.9" cy="2.6" r=".85"/><circle cx="7.9" cy="-11.6" r=".85"/><path d="M1.2-7.5H5.2" stroke="#000" stroke-width="1"/></svg></span>)</span></div>
<div class="t" id="t70" style="left:699px;top:319px;width:117px"><span>0,02 A<u>/</u>m</span></div>
<div class="t" id="t71" style="left:817px;top:319px;width:118px;word-spacing:-0.7px"><span>8 A<u>/</u>m <u>/</u> <span class="f"><svg width="16" height="22" viewBox="-5 -16 16 22"><path d="M-2 2.7C-1.8 3.7-.7 3.8-.1 2.8C.5 1.8 1 .4 1.5-1.3L3.8-9C4.4-11 5.3-12.6 6.7-12.6C7.4-12.6 7.9-12.3 8-11.7" fill="none" stroke="#000" stroke-width=".9" stroke-linecap="round"/><path d="M1.2-.3L3.9-9.3" fill="none" stroke="#000" stroke-width="1.2"/><circle cx="-1.9" cy="2.6" r=".85"/><circle cx="7.9" cy="-11.6" r=".85"/><path d="M1.2-7.5H5.2" stroke="#000" stroke-width="1"/></svg></span></span></div>
<div class="t" id="t72" style="left:936px;top:319px;width:130px"><span>80 A<u>/</u>m</span></div>
<div class="t" id="t73" style="left:335px;top:355px;width:117px"><span>0,32 A<u>/</u>m</span></div>
<div class="t" id="t74" style="left:453px;top:355px;width:117px"><span>0,16 A<u>/</u>m</span></div>
<div class="t" id="t75" style="left:571px;top:355px;width:127px"><span>0,053 A<u>/</u>m</span></div>
<div class="t" id="t76" style="left:699px;top:355px;width:117px"><span>0,02 A<u>/</u>m</span></div>
<div class="t" id="t77" style="left:817px;top:355px;width:118px;letter-spacing:0.03px"><span>Nie określono</span></div>
<div class="t" id="t78" style="left:936px;top:355px;width:130px;letter-spacing:0.03px"><span>Nie określono</span></div>
<div class="t" id="t79" style="left:335px;top:392px;width:117px"><span>0,32 A<u>/</u>m</span></div>
<div class="t" id="t80" style="left:453px;top:392px;width:117px"><span>0,16 A<u>/</u>m</span></div>
<div class="t" id="t81" style="left:571px;top:392px;width:127px"><span>0,053 A<u>/</u>m</span></div>
<div class="t" id="t82" style="left:699px;top:392px;width:117px"><span>0,02 A<u>/</u>m</span></div>
<div class="t" id="t83" style="left:817px;top:392px;width:118px;letter-spacing:0.03px"><span>Nie określono</span></div>
<div class="t" id="t84" style="left:936px;top:392px;width:130px;letter-spacing:0.03px"><span>Nie określono</span></div>
<div class="t" id="t85" style="left:936px;top:146px;width:130px;letter-spacing:0.03px"><span>Nie określono</span></div>
</body></html>
